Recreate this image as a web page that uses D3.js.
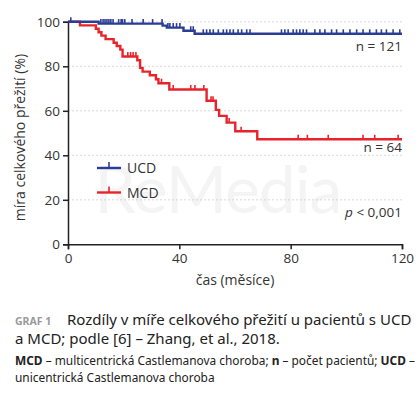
<!DOCTYPE html>
<html>
<head>
<meta charset="utf-8">
<script src="https://cdn.jsdelivr.net/npm/d3@7"></script>
<style>
  body { margin: 0; background: #fff; }
  svg { display: block; font-family: "Noto Sans", "Open Sans", sans-serif; }
</style>
</head>
<body>
<svg id="chart" width="420" height="395"></svg>
<script>
// survival steps: [time (months), survival (%)]
const ucdSteps = [[0, 100], [11, 99.2], [34, 98.3], [35.5, 97.4], [41.5, 96.0], [45.5, 94.6]];
const mcdSteps = [
  [0, 100], [4.3, 98.4], [10, 96.9], [11, 95.3], [12, 93.8], [13.5, 92.2], [16.4, 90.6],
  [17.5, 89.1], [18.8, 87.5], [19.6, 84.4], [24.9, 82.7], [25.9, 79.3], [26.8, 77.6],
  [29.4, 76.0], [31.6, 74.2], [32.5, 72.4], [36.4, 69.6], [49.8, 64.5], [53.1, 60.4],
  [54.3, 57.7], [57, 54.7], [60.1, 50.8], [68, 47.2]
];
// censored observations (months)
const ucdCensored = [
  1, 11.8, 12.6, 13.3, 14, 14.7, 15.4, 16.2, 18.2, 19.1, 19.6, 20.4, 23, 27, 30.4, 33.8,
  35.9, 36.6, 37.8, 39, 40.2, 44.1, 45, 48.6, 49.8, 51, 52.2, 54, 55.8, 57, 58.2, 59.4,
  61.1, 62.4, 64.2, 65.4, 76.7, 77.9, 79.1, 80.9, 82.1, 83.3, 84.5, 85.7, 88.7, 90.5,
  92.3, 94.7, 96.5, 98.9, 101.3, 103.7, 106, 108.4, 110.8, 112.6, 114.4, 116.8, 119.2
];
const mcdCensored = [
  21.5, 22.5, 23.4, 24.4, 33.6, 37.8, 44.1, 45.6, 48.8, 51.4, 52.1, 57.9, 62.2,
  82.7, 86, 93.5, 106, 110.2, 118.6
];
const xTicks = [0, 40, 80, 120];
const yTicks = [0, 20, 40, 60, 80, 100];
const endTime = 120;

const colors = {UCD: '#2a3d96', MCD: '#e8232b'};

const svg = d3.select('#chart');
const x = d3.scaleLinear().domain([0, 120]).range([68, 402]);
const y = d3.scaleLinear().domain([0, 100]).range([244.3, 21.8]);

// watermark
svg.append('text')
    .attr('x', 218).attr('y', 213)
    .attr('text-anchor', 'middle')
    .attr('font-size', 66)
    .attr('font-family', 'Lato, "Noto Sans", sans-serif')
    .attr('letter-spacing', -1)
    .style('fill', '#f4f4f4')
    .text('ReMedia');

// grid
svg.append('g')
  .selectAll('line')
  .data(yTicks.filter(d => d > 0))
  .join('line')
    .attr('x1', x(0)).attr('x2', x(120))
    .attr('y1', d => y(d)).attr('y2', d => y(d))
    .style('stroke', '#cfcfcf')
    .style('stroke-width', 0.8)
    .style('stroke-dasharray', '2,2');

// axes
const xAxis = svg.append('g')
    .attr('transform', `translate(0,${y(0)})`)
    .call(d3.axisBottom(x).tickValues(xTicks).tickSize(5).tickPadding(4));
const yAxis = svg.append('g')
    .attr('transform', `translate(${x(0)},0)`)
    .call(d3.axisLeft(y).tickValues(yTicks).tickSize(5).tickPadding(3));
[xAxis, yAxis].forEach(a => {
  a.select('.domain').style('stroke', '#222').style('stroke-width', 1.5);
  a.selectAll('.tick line').style('stroke', '#222').style('stroke-width', 1.5);
  a.selectAll('.tick text')
      .attr('font-size', 13.5)
      .attr('font-family', '"Open Sans", "Noto Sans", sans-serif')
      .style('fill', '#333');
});

svg.append('text')
    .attr('transform', `translate(25,${y(48)}) rotate(-90)`)
    .attr('text-anchor', 'middle')
    .attr('font-size', 14)
    .attr('font-family', '"Open Sans", "Noto Sans", sans-serif')
    .style('fill', '#333')
    .text('míra celkového přežití (%)');
svg.append('text')
    .attr('x', x(60)).attr('y', 285)
    .attr('text-anchor', 'middle')
    .attr('font-size', 14)
    .attr('font-family', '"Open Sans", "Noto Sans", sans-serif')
    .style('fill', '#333')
    .text('čas (měsíce)');

// survival curves
function stepPath(steps) {
  const pts = steps.concat([[endTime, steps[steps.length - 1][1]]]);
  return d3.line().x(d => x(d[0])).y(d => y(d[1])).curve(d3.curveStepAfter)(pts);
}
function survivalAt(steps, t) {
  let s = steps[0][1];
  steps.forEach(d => { if (d[0] <= t) s = d[1]; });
  return s;
}
function drawCurve(steps, censored, color) {
  const g = svg.append('g');
  g.append('path')
      .attr('d', stepPath(steps))
      .style('fill', 'none')
      .style('stroke', color)
      .style('stroke-width', 2.4);
  g.selectAll('line')
    .data(censored)
    .join('line')
      .attr('x1', d => x(d)).attr('x2', d => x(d))
      .attr('y1', d => y(survivalAt(steps, d)))
      .attr('y2', d => y(survivalAt(steps, d)) - 4.5)
      .style('stroke', color)
      .style('stroke-width', 1.6);
}
drawCurve(mcdSteps, mcdCensored, colors.MCD);
drawCurve(ucdSteps, ucdCensored, colors.UCD);

// legend
const legend = svg.append('g');
['UCD', 'MCD'].forEach((k, i) => {
  const ly = 168 + i * 24.5;
  legend.append('line')
      .attr('x1', 97).attr('x2', 121).attr('y1', ly).attr('y2', ly)
      .style('stroke', colors[k]).style('stroke-width', 2.4);
  legend.append('line')
      .attr('x1', 109).attr('x2', 109).attr('y1', ly).attr('y2', ly - 6)
      .style('stroke', colors[k]).style('stroke-width', 1.6);
  legend.append('text')
      .attr('x', 127).attr('y', ly + 5)
      .attr('font-size', 14)
      .attr('font-family', '"Open Sans", "Noto Sans", sans-serif')
      .style('fill', '#333')
      .text(k);
});

// annotations
const note = (t, yy) => svg.append('text')
    .attr('x', 402).attr('y', yy)
    .attr('text-anchor', 'end')
    .attr('font-size', 13.5)
    .attr('font-family', '"Open Sans", "Noto Sans", sans-serif')
    .style('fill', '#333')
    .text(t);
note('n = 121', 51);
note('n = 64', 152);
const pv = svg.append('text')
    .attr('x', 402).attr('y', 217)
    .attr('text-anchor', 'end')
    .attr('font-size', 13.5)
    .attr('font-family', '"Open Sans", "Noto Sans", sans-serif')
    .style('fill', '#333');
pv.append('tspan').attr('font-style', 'italic').text('p');
pv.append('tspan').text(' < 0,001');

// caption
const cap = svg.append('g').attr('font-family', '"Noto Sans", sans-serif');
cap.append('text')
    .attr('x', 15).attr('y', 325)
    .attr('font-size', 10.5)
    .attr('font-weight', 'bold')
    .style('fill', '#999')
    .text('GRAF 1');
cap.append('text')
    .attr('x', 67).attr('y', 325)
    .attr('font-size', 15)
    .style('fill', '#222')
    .text('Rozdíly v míře celkového přežití u pacientů s UCD');
cap.append('text')
    .attr('x', 15).attr('y', 344)
    .attr('font-size', 15)
    .style('fill', '#222')
    .text('a MCD; podle [6] – Zhang, et al., 2018.');
const line1 = cap.append('text')
    .attr('x', 15).attr('y', 365)
    .attr('font-size', 11.9)
    .style('fill', '#222');
[['MCD', true], [' – multicentrická Castlemanova choroba; ', false], ['n', true],
 [' – počet pacientů; ', false], ['UCD', true], [' –', false]].forEach(([t, b]) => {
  line1.append('tspan').attr('font-weight', b ? 'bold' : null).text(t);
});
cap.append('text')
    .attr('x', 15).attr('y', 382)
    .attr('font-size', 11.9)
    .style('fill', '#222')
    .text('unicentrická Castlemanova choroba');
</script>
</body>
</html>
